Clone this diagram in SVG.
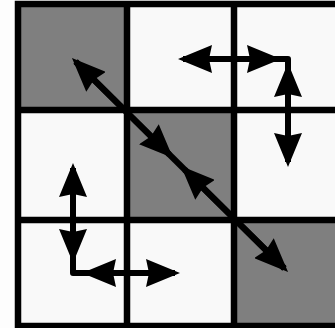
<svg xmlns="http://www.w3.org/2000/svg" width="335" height="328" viewBox="0 0 335 328">
  <style>
    .white { fill: #f9f9f9; }
    .gray { fill: #7f7f7f; }
    .grid { stroke: #000; stroke-width: 6.5; fill: none; }
    .arrow { stroke: #000; stroke-width: 6; fill: none; marker-start: url(#ah); marker-end: url(#ah); }
    .link { stroke: #000; stroke-width: 6; fill: none; stroke-linejoin: round; }
  </style>
  <defs>
    <marker id="ah" viewBox="0 0 34 28" refX="29" refY="14" markerWidth="34" markerHeight="28" markerUnits="userSpaceOnUse" orient="auto-start-reverse">
      <path d="M0,0 L34,14 L0,28 L3,14 Z" fill="#000"/>
    </marker>
  </defs>
  <rect x="0" y="0" width="335" height="328" fill="#fdfdfd"/>
  <g id="cells">
    <rect id="c00" class="gray" x="18" y="4" width="109" height="106"/>
    <rect id="c01" class="white" x="127" y="4" width="107" height="106"/>
    <rect id="c02" class="white" x="234" y="4" width="110" height="106"/>
    <rect id="c10" class="white" x="18" y="110" width="109" height="110"/>
    <rect id="c11" class="gray" x="127" y="110" width="107" height="110"/>
    <rect id="c12" class="white" x="234" y="110" width="110" height="110"/>
    <rect id="c20" class="white" x="18" y="220" width="109" height="106"/>
    <rect id="c21" class="white" x="127" y="220" width="107" height="106"/>
    <rect id="c22" class="gray" x="234" y="220" width="110" height="106"/>
  </g>
  <g id="gridlines" class="grid">
    <rect x="18" y="4" width="326" height="322"/>
    <line x1="127" y1="4" x2="127" y2="326"/>
    <line x1="234" y1="4" x2="234" y2="326"/>
    <line x1="18" y1="110" x2="344" y2="110"/>
    <line x1="18" y1="220" x2="344" y2="220"/>
  </g>
  <g id="connectors">
    <line class="link" x1="76" y1="62" x2="284" y2="268"/>
    <line class="arrow" x1="75.5" y1="61.5" x2="169.5" y2="154.6"/>
    <line class="arrow" x1="184.5" y1="169.5" x2="284.5" y2="268.5"/>
    <path class="link" d="M183,59 H288 V162"/>
    <line class="arrow" x1="183" y1="59" x2="276" y2="59"/>
    <line class="arrow" x1="288" y1="68" x2="288" y2="162"/>
    <path class="link" d="M73,168 V273 H175"/>
    <line class="arrow" x1="73" y1="168" x2="73" y2="258"/>
    <line class="arrow" x1="87" y1="273" x2="175" y2="273"/>
  </g>
</svg>
